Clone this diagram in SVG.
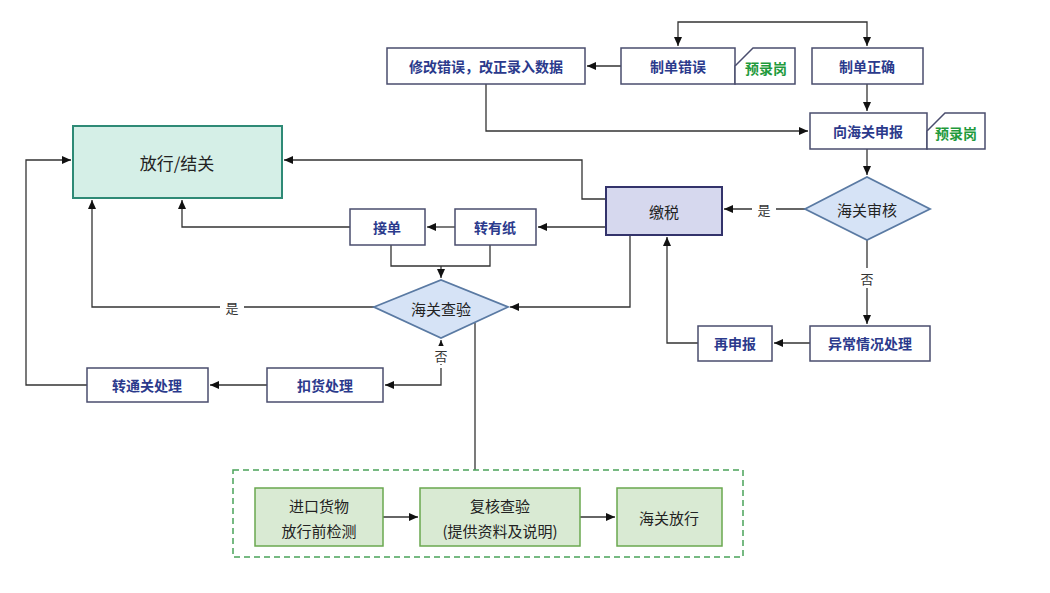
<svg xmlns="http://www.w3.org/2000/svg" width="1050" height="593" viewBox="0 0 1050 593">
<defs>
<marker id="a" markerWidth="10" markerHeight="10" refX="9" refY="5" orient="auto" markerUnits="userSpaceOnUse"><path d="M0,1 L9,5 L0,9 Z" fill="#111"/></marker>
<style>
.b{fill:#fff;stroke:#4a4d6e;stroke-width:1.5}
.t{font-family:"Noto Sans CJK SC","Noto Sans",sans-serif;font-size:14px;font-weight:bold;fill:#2b3a8c;text-anchor:middle;dominant-baseline:central}
.n{font-family:"Noto Sans CJK SC","Noto Sans",sans-serif;font-size:14px;font-weight:bold;fill:#1f9a3c;text-anchor:middle;dominant-baseline:central}
.k{font-family:"Noto Sans CJK SC","Noto Sans",sans-serif;font-size:15px;fill:#222;text-anchor:middle;dominant-baseline:central}
.l{font-family:"Noto Sans CJK SC","Noto Sans",sans-serif;font-size:13px;fill:#333;text-anchor:middle;dominant-baseline:central}
.d{fill:#d6e3f6;stroke:#5a7aa3;stroke-width:1.8}
.g{fill:#d9ead3;stroke:#6aa84f;stroke-width:1.5}
.c{fill:none;stroke:#333;stroke-width:1.3;marker-end:url(#a)}
.p{fill:none;stroke:#333;stroke-width:1.3}
</style>
</defs>
<rect width="1050" height="593" fill="#fff"/>
<g id="connectors">
<path class="c" d="M773,22 H678 V46"/>
<path class="c" d="M773,22 H867 V46"/>
<path class="c" d="M621,66 H587"/>
<path class="c" d="M867,84 V111"/>
<path class="c" d="M486,84 V131 H808"/>
<path class="c" d="M867,149 V175"/>
<path class="c" d="M805,209 H724"/>
<path class="c" d="M606,199 H582 V160 H284"/>
<path class="c" d="M606,227 H538"/>
<path class="c" d="M455,227 H427"/>
<path class="c" d="M350,227 H182 V200"/>
<path class="p" d="M391,245 V266 H490 V245"/>
<path class="c" d="M441,266 V278"/>
<path class="c" d="M374,307 H92 V200"/>
<path class="c" d="M630,235 V307 H510"/>
<path class="c" d="M867,240 V324"/>
<path class="c" d="M810,343 H774"/>
<path class="c" d="M698,343 H667 V237"/>
<path class="c" d="M441,365 V340"/>
<path class="c" d="M441,368 V385 H385"/>
<path class="c" d="M267,385 H210"/>
<path class="c" d="M87,385 H26 V160 H71"/>
<path class="p" d="M475,323 V470"/>
<path class="c" d="M383,517 H418"/>
<path class="c" d="M580,517 H615"/>
<rect x="752" y="200" width="24" height="18" fill="#fff"/><text class="l" x="764" y="209">是</text>
<rect x="855" y="268" width="24" height="20" fill="#fff"/><text class="l" x="867" y="278">否</text>
<rect x="220" y="298" width="24" height="18" fill="#fff"/><text class="l" x="232" y="307">是</text>
<rect x="432" y="346" width="18" height="18" fill="#fff"/><text class="l" x="441" y="355">否</text>
</g>
<g id="fix"><rect class="b" x="387" y="48" width="198" height="36"/><text class="t" x="486" y="66">修改错误，改正录入数据</text></g>
<g id="err"><rect class="b" x="621" y="48" width="114" height="36"/><text class="t" x="678" y="66">制单错误</text></g>
<g id="note1"><path class="b" d="M735,84 V66 L753,48 H795 V84 Z"/><text class="n" x="766" y="68">预录岗</text></g>
<g id="ok"><rect class="b" x="812" y="48" width="111" height="36"/><text class="t" x="867" y="66">制单正确</text></g>
<g id="declare"><rect class="b" x="810" y="113" width="117" height="36"/><text class="t" x="868" y="131">向海关申报</text></g>
<g id="note2"><path class="b" d="M927,149 V131 L945,113 H985 V149 Z"/><text class="n" x="956" y="133">预录岗</text></g>
<g id="review"><path class="d" d="M805,209 L867,177 L930,209 L867,240 Z"/><text class="k" x="867" y="209">海关审核</text></g>
<g id="tax"><rect x="606" y="187" width="116" height="48" fill="#d6d8ee" stroke="#33336b" stroke-width="2"/><text class="k" x="664" y="211">缴税</text></g>
<g id="release"><rect x="73" y="126" width="209" height="72" fill="#d5efe7" stroke="#2e8a76" stroke-width="2"/><text class="k" x="177" y="162" style="font-size:17px">放行/结关</text></g>
<g id="paper"><rect class="b" x="455" y="209" width="81" height="36"/><text class="t" x="495" y="227">转有纸</text></g>
<g id="accept"><rect class="b" x="350" y="209" width="75" height="36"/><text class="t" x="387" y="227">接单</text></g>
<g id="inspect"><path class="d" d="M374,307 L441,280 L508,307 L441,338 Z"/><text class="k" x="441" y="308">海关查验</text></g>
<g id="redeclare"><rect class="b" x="698" y="326" width="74" height="35"/><text class="t" x="735" y="343">再申报</text></g>
<g id="abnormal"><rect class="b" x="810" y="326" width="120" height="35"/><text class="t" x="870" y="343">异常情况处理</text></g>
<g id="detain"><rect class="b" x="267" y="368" width="116" height="34"/><text class="t" x="325" y="385">扣货处理</text></g>
<g id="transfer"><rect class="b" x="87" y="368" width="121" height="34"/><text class="t" x="147" y="385">转通关处理</text></g>
<g id="group"><rect x="233" y="470" width="510" height="87" fill="none" stroke="#4aa35a" stroke-width="1.5" stroke-dasharray="6,4"/></g>
<g id="pre"><rect class="g" x="255" y="488" width="128" height="58"/><text class="k" x="319" y="505">进口货物</text><text class="k" x="319" y="530">放行前检测</text></g>
<g id="recheck"><rect class="g" x="420" y="488" width="160" height="58"/><text class="k" x="500" y="505">复核查验</text><text class="k" x="500" y="530">(提供资料及说明)</text></g>
<g id="cleared"><rect class="g" x="617" y="488" width="105" height="58"/><text class="k" x="669" y="517">海关放行</text></g>
</svg>
